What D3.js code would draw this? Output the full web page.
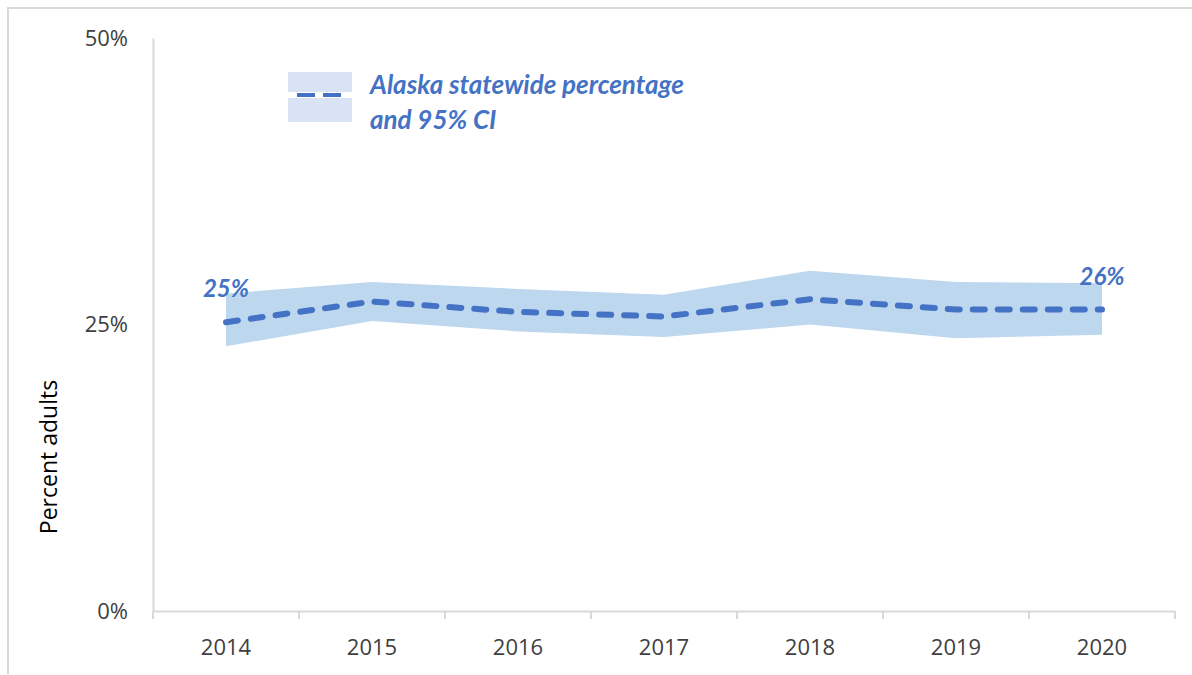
<!DOCTYPE html>
<html>
<head>
<meta charset="utf-8">
<script src="https://cdn.jsdelivr.net/npm/d3@7"></script>
<style>
  body { margin: 0; background: #fff; }
  svg { display: block; }
</style>
</head>
<body>
<script>
// data
const years = ["2014", "2015", "2016", "2017", "2018", "2019", "2020"];
const percent = [25.2, 27.0, 26.1, 25.7, 27.2, 26.3, 26.3];
const ciLower = [23.1, 25.3, 24.4, 23.9, 25.0, 23.8, 24.1];
const ciUpper = [27.7, 28.7, 28.1, 27.6, 29.7, 28.7, 28.6];
const yTicks = [0, 25, 50];
const endLabels = ["25%", "26%"];

const W = 1192, H = 675;
const margin = {top: 38, right: 17, bottom: 64, left: 153};
const width = W - margin.left - margin.right,
    height = H - margin.top - margin.bottom;

const blue = "#4472c4", band = "#bdd7ee", axisGray = "#d9d9d9", textGray = "#404040";
const tickFont = "'Open Sans', 'Liberation Sans', sans-serif";
const labelFont = "Lato, 'Open Sans', sans-serif";

const svg = d3.select("body").append("svg")
    .attr("width", W)
    .attr("height", H);

// frame of the screenshot (top and left edges)
svg.append("path")
    .attr("d", "M8,674 L8,8 L1192,8")
    .attr("fill", "none")
    .attr("stroke", "#d9d9d9")
    .attr("stroke-width", 2);

const g = svg.append("g")
    .attr("transform", "translate(" + margin.left + "," + margin.top + ")");

const x = d3.scaleBand().domain(years).range([0, width]);
const y = d3.scaleLinear().domain([0, 50]).range([height, 0]);
const cx = d => x(d) + x.bandwidth() / 2;

const rows = years.map((yr, i) => ({year: yr, v: percent[i], lo: ciLower[i], hi: ciUpper[i]}));

// CI band
g.append("path")
    .datum(rows)
    .attr("fill", band)
    .attr("d", d3.area()
        .x(d => cx(d.year))
        .y0(d => y(d.lo))
        .y1(d => y(d.hi)));

// statewide line
g.append("path")
    .datum(rows)
    .attr("fill", "none")
    .attr("stroke", blue)
    .attr("stroke-width", 6)
    .attr("stroke-linecap", "round")
    .attr("stroke-dasharray", "12,13")
    .attr("d", d3.line()
        .x(d => cx(d.year))
        .y(d => y(d.v)));

// first and last value labels
[0, years.length - 1].forEach((idx, k) => {
    g.append("text")
        .text(endLabels[k])
        .attr("x", cx(years[idx]))
        .attr("y", y(percent[idx]) - 25)
        .attr("text-anchor", "middle")
        .attr("font-family", labelFont)
        .attr("font-weight", "bold")
        .attr("font-style", "italic")
        .attr("font-size", "24px")
        .attr("fill", blue);
});

// x axis
const xAxis = g.append("g")
    .attr("transform", "translate(0," + height + ")")
    .call(d3.axisBottom(x).tickSize(0).tickSizeOuter(0));
xAxis.select(".domain").attr("stroke", axisGray).attr("stroke-width", 2);
xAxis.selectAll("text")
    .attr("y", 44)
    .attr("dy", null)
    .attr("font-family", tickFont)
    .attr("font-size", "22px")
    .attr("fill", textGray);
// tick marks on band boundaries
xAxis.selectAll(".sep")
    .data(years.concat(["end"]))
    .enter().append("line")
    .attr("class", "sep")
    .attr("x1", (d, i) => i < years.length ? x(d) : width)
    .attr("x2", (d, i) => i < years.length ? x(d) : width)
    .attr("y1", 0)
    .attr("y2", 8)
    .attr("stroke", axisGray)
    .attr("stroke-width", 2);

// y axis
const yAxis = g.append("g")
    .call(d3.axisLeft(y).tickValues(yTicks).tickSize(0).tickPadding(25)
        .tickFormat(d => d + "%"));
yAxis.select(".domain").attr("stroke", axisGray).attr("stroke-width", 2);
yAxis.selectAll("text")
    .attr("font-family", tickFont)
    .attr("font-size", "22px")
    .attr("fill", textGray);

svg.append("text")
    .text("Percent adults")
    .attr("transform", "translate(57,457) rotate(-90)")
    .attr("text-anchor", "middle")
    .attr("font-family", tickFont)
    .attr("font-size", "23px")
    .attr("fill", "#000");

// legend
const lg = svg.append("g").attr("transform", "translate(288,72)");
lg.append("rect")
    .attr("width", 64).attr("height", 50)
    .attr("fill", "#dae3f3");
lg.append("rect")
    .attr("y", 20).attr("width", 64).attr("height", 6)
    .attr("fill", "#fff");
lg.append("line")
    .attr("x1", 9).attr("x2", 55)
    .attr("y1", 23).attr("y2", 23)
    .attr("stroke", blue)
    .attr("stroke-width", 4)
    .attr("stroke-dasharray", "18,8");
const legendText = lg.append("text")
    .attr("font-family", labelFont)
    .attr("font-weight", "bold")
    .attr("font-style", "italic")
    .attr("font-size", "26px")
    .attr("fill", blue);
legendText.append("tspan").attr("x", 82).attr("y", 22).text("Alaska statewide percentage");
legendText.append("tspan").attr("x", 82).attr("y", 57).text("and 95% CI");
</script>
</body>
</html>
